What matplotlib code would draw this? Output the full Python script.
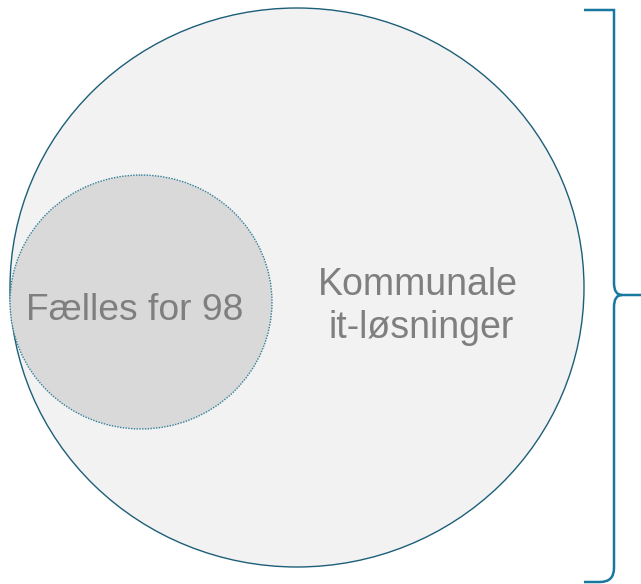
import matplotlib
matplotlib.use("Agg")
import matplotlib.pyplot as plt
from matplotlib.patches import Ellipse, PathPatch
from matplotlib.path import Path

# labels of the two sets
outer_label = ["Kommunale", "it-løsninger"]
inner_label = "Fælles for 98"

# set geometry in pixel coords (centre x, centre y, width, height)
outer_set = (297, 287.5, 574, 559)
inner_set = (141, 302, 262, 254)

fig = plt.figure(figsize=(6.41, 5.84), dpi=100)
ax = fig.add_axes([0, 0, 1, 1])
ax.set_xlim(0, 641)
ax.set_ylim(584, 0)
ax.axis("off")

ax.add_patch(Ellipse(outer_set[:2], outer_set[2], outer_set[3],
                     facecolor="#f2f2f2", edgecolor="#1d5f78", lw=1.0))
ax.add_patch(Ellipse(inner_set[:2], inner_set[2], inner_set[3],
                     facecolor="#d9d9d9", edgecolor="#2f7f99", lw=1.0, ls=(0, (1, 1))))

ax.text(134.5, 310, inner_label, ha="center", va="center", fontsize=26.8,
        color="#7f7f7f", family="Liberation Sans")
ax.text(417.5, 285, outer_label[0], ha="center", va="center", fontsize=27,
        color="#7f7f7f", family="Liberation Sans")
ax.text(421, 328, outer_label[1], ha="center", va="center", fontsize=27,
        color="#7f7f7f", family="Liberation Sans")

# curly brace on the right
x0, xv, xt = 584, 614, 641
y0, ym, y1 = 10, 295, 582
verts = [(x0, y0), (600, y0), (xv, y0), (xv, y0 + 14),
         (xv, ym - 12), (xv, ym), (xv + 8, ym), (xt, ym),
         (xv + 8, ym), (xv, ym), (xv, ym + 12),
         (xv, y1 - 14), (xv, y1), (600, y1), (x0, y1)]
codes = [Path.MOVETO, Path.CURVE3, Path.CURVE3, Path.LINETO,
         Path.LINETO, Path.CURVE3, Path.CURVE3, Path.LINETO,
         Path.MOVETO, Path.CURVE3, Path.CURVE3,
         Path.LINETO, Path.CURVE3, Path.CURVE3, Path.LINETO]
ax.add_patch(PathPatch(Path(verts, codes), facecolor="none",
                       edgecolor="#1878a0", lw=1.8, capstyle="butt"))

fig.savefig("out.png", dpi=100)
